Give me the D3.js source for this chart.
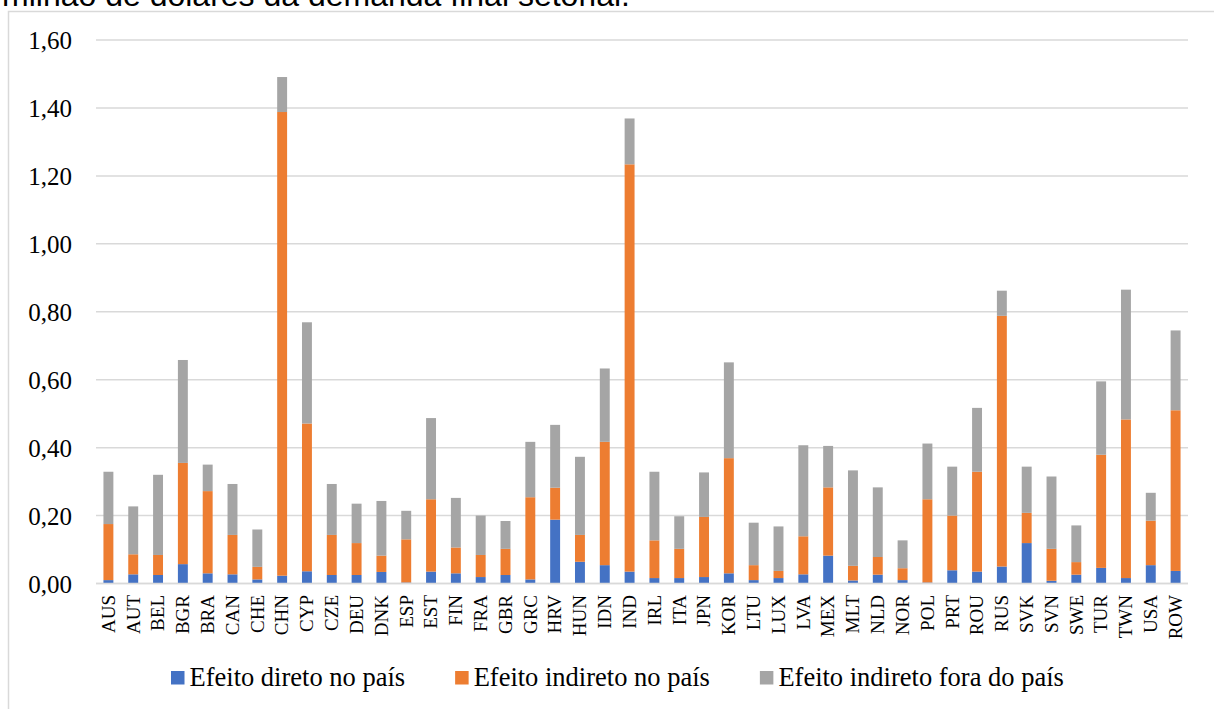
<!DOCTYPE html>
<html>
<head>
<meta charset="utf-8">
<script src="https://cdn.jsdelivr.net/npm/d3@7"></script>
<style>
  html, body { margin: 0; padding: 0; background: #fff; }
  svg { display: block; }
  .serif { font-family: "Liberation Serif", "Times New Roman", Times, serif; }
  .sans { font-family: "Liberation Sans", Arial, Helvetica, sans-serif; }
</style>
</head>
<body>
<svg id="chart" width="1214" height="709"></svg>
<script>
// Country codes along the horizontal axis
const countries = ["AUS","AUT","BEL","BGR","BRA","CAN","CHE","CHN","CYP","CZE","DEU","DNK","ESP","EST","FIN","FRA","GBR","GRC","HRV","HUN","IDN","IND","IRL","ITA","JPN","KOR","LTU","LUX","LVA","MEX","MLT","NLD","NOR","POL","PRT","ROU","RUS","SVK","SVN","SWE","TUR","TWN","USA","ROW"];

// Series values (stacked in this order)
const efeitoDireto = [0.010,0.027,0.025,0.057,0.030,0.027,0.012,0.023,0.036,0.025,0.025,0.034,0.003,0.035,0.030,0.019,0.025,0.012,0.188,0.064,0.054,0.035,0.016,0.016,0.019,0.030,0.010,0.016,0.027,0.082,0.009,0.026,0.010,0.003,0.039,0.035,0.050,0.119,0.008,0.026,0.046,0.016,0.054,0.037];
const efeitoIndiretoNoPais = [0.165,0.059,0.059,0.298,0.242,0.116,0.037,1.365,0.435,0.118,0.094,0.048,0.127,0.213,0.076,0.065,0.077,0.242,0.094,0.079,0.363,1.199,0.111,0.086,0.177,0.339,0.044,0.021,0.112,0.201,0.043,0.052,0.035,0.245,0.161,0.294,0.738,0.089,0.094,0.037,0.333,0.467,0.131,0.473];
const efeitoIndiretoFora = [0.154,0.141,0.236,0.303,0.078,0.150,0.110,0.103,0.298,0.150,0.116,0.161,0.084,0.239,0.146,0.116,0.082,0.163,0.185,0.230,0.216,0.135,0.202,0.096,0.131,0.282,0.125,0.131,0.268,0.122,0.281,0.205,0.082,0.164,0.144,0.188,0.074,0.136,0.213,0.108,0.216,0.382,0.082,0.235];

const seriesNames = ["Efeito direto no país","Efeito indireto no país","Efeito indireto fora do país"];
const seriesColors = ["#4472C4","#ED7D31","#A5A5A5"];
const yTicks = [0,0.2,0.4,0.6,0.8,1.0,1.2,1.4,1.6];
const titleText = "milhão de dólares da demanda final setorial.";

const svg = d3.select("#chart");
const W = 1214, H = 709;
const plot = { left: 96, right: 1188, top: 40, bottom: 583.5 };

// Outer frame (only top and left edges fall inside the page)
svg.append("path")
  .attr("d", `M8.5,${H} L8.5,11.5 L${W},11.5`)
  .attr("fill", "none")
  .attr("stroke", "#D9D9D9")
  .attr("stroke-width", 1.5);

// Caption line running off the top edge
svg.append("text")
  .attr("class", "sans")
  .attr("x", 2)
  .attr("y", 6)
  .style("font-size", "32px")
  .attr("fill", "#000")
  .text(titleText);

const x = d3.scaleBand()
  .domain(countries)
  .range([plot.left, plot.right])
  .paddingInner(0.6)
  .paddingOuter(0.3);

const y = d3.scaleLinear()
  .domain([0, 1.6])
  .range([plot.bottom, plot.top]);

const fmt = v => d3.format(".2f")(v).replace(".", ",");

// Horizontal gridlines
svg.append("g")
  .selectAll("line")
  .data(yTicks)
  .join("line")
  .attr("x1", plot.left)
  .attr("x2", plot.right)
  .attr("y1", d => y(d))
  .attr("y2", d => y(d))
  .attr("stroke", "#D9D9D9")
  .attr("stroke-width", 1.5);

// Y axis labels
const yAxis = d3.axisLeft(y).tickValues(yTicks).tickFormat(fmt).tickSize(0).tickPadding(0);
const gy = svg.append("g")
  .attr("transform", `translate(72,0)`)
  .call(yAxis)
  .attr("font-family", null)
  .attr("font-size", null);
gy.select(".domain").remove();
gy.selectAll("text")
  .attr("class", "serif")
  .style("font-size", "25px")
  .attr("fill", "#000")
  .attr("dy", "0.34em");

// Stacked bars
const rows = countries.map((c, i) => ({
  country: c,
  s0: efeitoDireto[i],
  s1: efeitoIndiretoNoPais[i],
  s2: efeitoIndiretoFora[i]
}));
const stack = d3.stack().keys(["s0","s1","s2"]);
const layers = stack(rows);

svg.append("g")
  .selectAll("g")
  .data(layers)
  .join("g")
  .attr("fill", (d, i) => seriesColors[i])
  .selectAll("rect")
  .data(d => d)
  .join("rect")
  .attr("x", d => x(d.data.country))
  .attr("width", x.bandwidth())
  .attr("y", d => y(d[1]))
  .attr("height", d => y(d[0]) - y(d[1]));

// Baseline
svg.append("line")
  .attr("x1", plot.left).attr("x2", plot.right)
  .attr("y1", plot.bottom).attr("y2", plot.bottom)
  .attr("stroke", "#D9D9D9")
  .attr("stroke-width", 1.5);

// Category labels, rotated
const xAxis = d3.axisBottom(x).tickSize(0).tickPadding(0);
const gx = svg.append("g")
  .attr("transform", `translate(0,${plot.bottom})`)
  .call(xAxis)
  .attr("font-family", null)
  .attr("font-size", null);
gx.select(".domain").remove();
gx.selectAll("text")
  .attr("class", "serif")
  .style("font-size", "19px")
  .attr("fill", "#000")
  .attr("text-anchor", "end")
  .attr("transform", "translate(0,11.5) rotate(-90)")
  .attr("x", 0)
  .attr("y", 0)
  .attr("dy", "0.33em");

// Legend
const legend = svg.append("g");
let lx = 171;
seriesNames.forEach((name, i) => {
  legend.append("rect")
    .attr("x", lx).attr("y", 671)
    .attr("width", 13.5).attr("height", 13.5)
    .attr("fill", seriesColors[i]);
  const t = legend.append("text")
    .attr("class", "serif")
    .attr("x", lx + 18.5)
    .attr("y", 686)
    .style("font-size", "26.5px")
    .attr("fill", "#000")
    .text(name);
  lx += 18.5 + t.node().getComputedTextLength() + 50;
});
</script>
</body>
</html>
